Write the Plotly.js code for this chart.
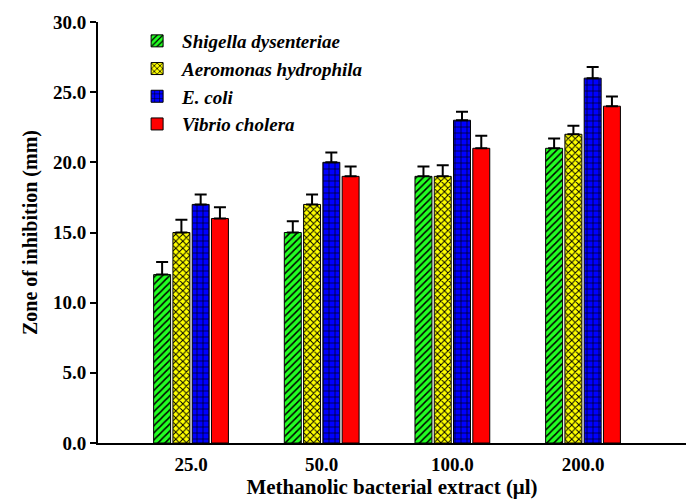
<!DOCTYPE html>
<html><head><meta charset="utf-8">
<script src="https://cdn.plot.ly/plotly-3.0.1.min.js"></script>
<style>body{margin:0;background:#fff}#chart{width:686px;height:501px}</style>
</head><body><div id="chart"></div>
<script>
var categories = ['25.0', '50.0', '100.0', '200.0'];
var seriesNames = ['Shigella dysenteriae', 'Aeromonas hydrophila', 'E. coli', 'Vibrio cholera'];
var shigella = [12, 15, 19, 21];
var aeromonas = [15, 17, 19, 22];
var ecoli = [17, 20, 23, 26];
var vibrio = [16, 19, 21, 24];
var shigellaErr = [0.9, 0.8, 0.7, 0.7];
var aeromonasErr = [0.9, 0.7, 0.8, 0.6];
var ecoliErr = [0.7, 0.7, 0.6, 0.8];
var vibrioErr = [0.8, 0.7, 0.9, 0.7];
var yTicks = [0, 5, 10, 15, 20, 25, 30];

var FONT = 'Liberation Serif';
var values = [shigella, aeromonas, ecoli, vibrio];
var errs = [shigellaErr, aeromonasErr, ecoliErr, vibrioErr];
var styles = [
  {bg: '#22ff22', shape: '/', size: 5, sol: 0.3},
  {bg: '#ffff00', shape: 'x', size: 5, sol: 0.35},
  {bg: '#0000ff', shape: '+', size: 6, sol: 0.2},
  {bg: '#ff0000', shape: '', size: 6, sol: 0.3}
];
var traces = seriesNames.map(function (n, i) {
  var s = styles[i];
  var marker = {color: s.bg, line: {color: '#000', width: 1}};
  if (s.shape) {
    marker.pattern = {shape: s.shape, bgcolor: s.bg, fgcolor: '#000', size: s.size, solidity: s.sol, fillmode: 'replace'};
  }
  return {
    type: 'bar', name: n, x: categories, y: values[i], marker: marker,
    error_y: {type: 'data', symmetric: false, array: errs[i], arrayminus: errs[i].map(function(){return 0;}),
              color: '#000', thickness: 2, width: 6}
  };
});

var layout = {
  width: 686, height: 501,
  margin: {l: 98, r: 0, t: 22, b: 58},
  paper_bgcolor: '#fff', plot_bgcolor: '#fff',
  font: {family: FONT, color: '#000'},
  barmode: 'group', bargap: 0.41, bargroupgap: 0.12,
  showlegend: true,
  legend: {x: 0.058, y: 1.0, xanchor: 'left', yanchor: 'top', bgcolor: 'rgba(0,0,0,0)',
           font: {size: 19, family: FONT, weight: 'bold', style: 'italic', color: '#000'},
           traceorder: 'normal', itemwidth: 40},
  xaxis: {
    type: 'category', range: [-0.712, 3.788], showline: true, linecolor: '#000', linewidth: 2,
    ticks: '', showgrid: false, zeroline: false,
    tickfont: {size: 19, family: FONT, weight: 'bold', color: '#000'}, ticklabelstandoff: 3,
    title: {text: 'Methanolic bacterial extract (μl)', font: {size: 21, family: FONT, weight: 'bold', color: '#000'}, standoff: 3}
  },
  yaxis: {
    range: [0, 30], tickvals: yTicks, ticktext: yTicks.map(function(v){return v.toFixed(1);}),
    showline: true, linecolor: '#000', linewidth: 2, ticks: 'outside', ticklen: 6, tickwidth: 2, tickcolor: '#000',
    showgrid: false, zeroline: false,
    tickfont: {size: 19, family: FONT, weight: 'bold', color: '#000'},
    title: {text: 'Zone of inhibition (mm)', font: {size: 20, family: FONT, weight: 'bold', color: '#000'}, standoff: 10}
  }
};
Plotly.newPlot('chart', traces, layout, {displayModeBar: false, staticPlot: true});
</script></body></html>
